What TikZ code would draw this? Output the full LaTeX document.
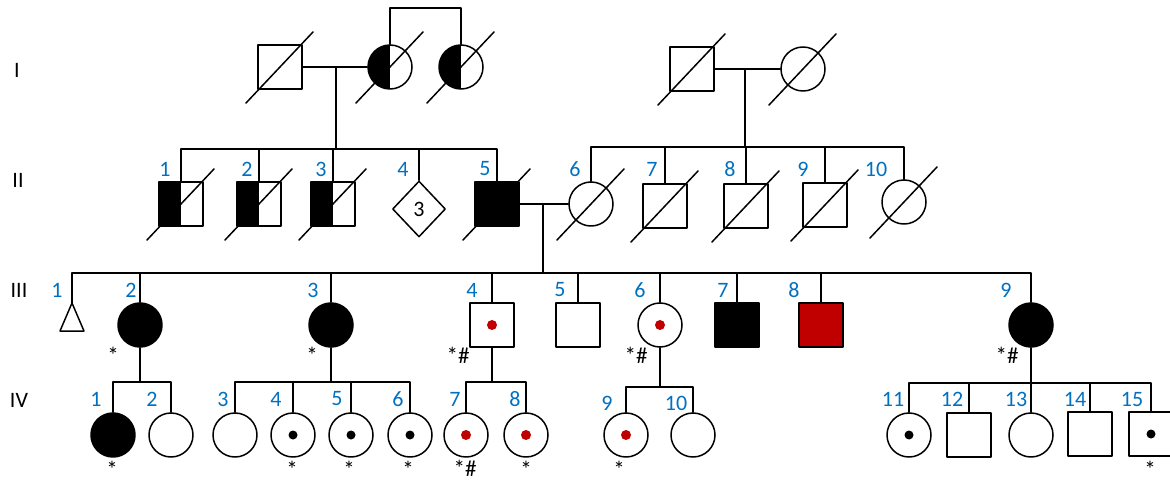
\documentclass[tikz,border=0pt]{standalone}
\usepackage{fontspec}
\setmainfont{Carlito}
\usepackage{tikz}
\usetikzlibrary{shapes.geometric}
\definecolor{numblue}{RGB}{0,112,192}
\definecolor{carrred}{RGB}{192,0,0}
\begin{document}
\begin{tikzpicture}[line cap=round,line join=round,x=1pt,y=-1pt,line width=1.5pt,
    male/.style={draw,rectangle,minimum size=44pt,inner sep=0pt,fill=white},
    female/.style={draw,circle,minimum size=44pt,inner sep=0pt,fill=white},
    halfleft/.style={path picture={\fill[black] (path picture bounding box.south west) rectangle (path picture bounding box.north);}},
    dotblack/.style={path picture={\fill[black] (path picture bounding box.center) circle (4.5pt);}},
    dotred/.style={path picture={\fill[carrred] (path picture bounding box.center) circle (5pt);}},
    num/.style={text=numblue,font=\fontsize{22}{24}\selectfont,inner sep=0pt},
    gen/.style={font=\fontsize{22}{24}\selectfont,inner sep=0pt},
    starlbl/.style={font=\fontsize{23}{24}\selectfont,inner sep=0pt,anchor=base}]
\useasboundingbox (0,0) rectangle (1170,481);
% generation I
\node[male] (I1) at (280,67) {};
\node[female,halfleft] (I2) at (390,67) {};
\node[female,halfleft] (I3) at (461,67) {};
\node[male] (I4) at (692,69) {};
\node[female] (I5) at (803,69) {};
\coordinate (sis) at (0,8);
\coordinate (m1) at (336,67);
\coordinate (m2) at (745,69);
\draw (I1.east) -- (I2.west);
\draw (I4.east) -- (I5.west);
\draw (I2.north) -- (I2.north |- sis) -- (I3.north |- sis) -- (I3.north);
% generation II
\node[male,halfleft] (II1) at (181,204) {};
\node[male,halfleft] (II2) at (259,204) {};
\node[male,halfleft] (II3) at (333,204) {};
\node[draw,diamond,minimum width=53pt,minimum height=56pt,inner sep=0pt,font=\fontsize{22}{24}\selectfont] (II4) at (419,209) {3};
\node[male,fill=black] (II5) at (497,204) {};
\node[female] (II6) at (591,204) {};
\node[male] (II7) at (665,206) {};
\node[male] (II8) at (746,206) {};
\node[male] (II9) at (825,205) {};
\node[female] (II10) at (904,202) {};
\coordinate (sib2) at (0,149);
\coordinate (sib2r) at (0,147);
\draw (m1) -- (m1 |- sib2);
\draw (m2) -- (m2 |- sib2r);
\draw (II1.north) -- (II1.north |- sib2) -- (II5.north |- sib2) -- (II5.north);
\foreach \c in {II2,II3,II4} \draw (\c.north) -- (\c.north |- sib2);
\draw (II6.north) -- (II6.north |- sib2r) -- (II10.north |- sib2r) -- (II10.north);
\foreach \c in {II7,II8,II9} \draw (\c.north) -- (\c.north |- sib2r);
\draw (II5.east) -- (II6.west);
\coordinate (m3) at (543,204);
\coordinate (sib3) at (0,273);
\draw (m3) -- (m3 |- sib3);
% generation III
\coordinate (III1) at (72,303);
\draw (III1) -- ++(-12,28) -- ++(24,0) -- cycle;
\node[female,fill=black] (III2) at (140,325) {};
\node[female,fill=black] (III3) at (331,325) {};
\node[male,dotred] (III4) at (492,325) {};
\node[male] (III5) at (578,325) {};
\node[female,dotred] (III6) at (660,325) {};
\node[male,fill=black] (III7) at (737,325) {};
\node[male,fill=carrred] (III8) at (821,325) {};
\node[female,fill=black] (III9) at (1031,325) {};
\draw (III1) -- (III1 |- sib3) -- (III9.north |- sib3) -- (III9.north);
\foreach \c in {III2,III3,III4,III5,III6,III7,III8} \draw (\c.north) -- (\c.north |- sib3);
% generation IV
\node[female,fill=black] (IV1) at (113,435) {};
\node[female] (IV2) at (171,435) {};
\node[female] (IV3) at (235,435) {};
\node[female,dotblack] (IV4) at (293,435) {};
\node[female,dotblack] (IV5) at (351,435) {};
\node[female,dotblack] (IV6) at (410,435) {};
\node[female,dotred] (IV7) at (466,435) {};
\node[female,dotred] (IV8) at (526,435) {};
\node[female,dotred] (IV9) at (626,435) {};
\node[female] (IV10) at (693,435) {};
\node[female,dotblack] (IV11) at (909,435) {};
\node[male] (IV12) at (969,435) {};
\node[female] (IV13) at (1031,435) {};
\node[male] (IV14) at (1090,434) {};
\node[male,dotblack] (IV15) at (1151,434) {};
\coordinate (sib4) at (0,382);
\coordinate (sib4b) at (0,387);
\coordinate (sib4c) at (0,383);
\foreach \c in {III2,III3,III4} \draw (\c.south) -- (\c.south |- sib4);
\draw (III6.south) -- (III6.south |- sib4b);
\draw (III9.south) -- (III9.south |- sib4c);
\draw (IV1.north) -- (IV1.north |- sib4) -- (IV2.north |- sib4) -- (IV2.north);
\draw (IV3.north) -- (IV3.north |- sib4) -- (IV6.north |- sib4) -- (IV6.north);
\foreach \c in {IV4,IV5} \draw (\c.north) -- (\c.north |- sib4);
\draw (IV7.north) -- (IV7.north |- sib4) -- (IV8.north |- sib4) -- (IV8.north);
\draw (IV9.north) -- (IV9.north |- sib4b) -- (IV10.north |- sib4b) -- (IV10.north);
\draw (IV11.north) -- (IV11.north |- sib4c) -- (IV15.north |- sib4c) -- (IV15.north);
\foreach \c in {IV12,IV13,IV14} \draw (\c.north) -- (\c.north |- sib4c);
% deceased
\foreach \c in {I1,I2,I3,I4,I5,II1,II2,II3,II5,II6,II7,II8,II9,II10}
    \draw (\c.center) ++(-34,36) -- ++(67,-71);
% labels
\node[gen] (gI) at (17,70) {I};
\node[gen] (gII) at (18,180) {II};
\node[gen] (gIII) at (19,290) {III};
\node[gen] (gIV) at (19,400) {IV};
\foreach \x/\t in {165/1,247/2,321/3,403/4,485/5,575/6,652/7,730/8,803/9,876/10}
    \node[num] (nII\t) at (\x,169) {\t};
\foreach \x/\t in {57/1,131/2,313/3,472/4,560/5,640/6,723/7,794/8,1006/9}
    \node[num] (nIII\t) at (\x,290) {\t};
\foreach \x/\t in {96/1,152/2,223/3,276/4,337/5,398/6,455/7,515/8,893/11,952/12,1016/13,1075/14,1132/15}
    \node[num] (nIV\t) at (\x,399) {\t};
\foreach \x/\t in {607/9,676/10}
    \node[num] (nIV\t) at (\x,403) {\t};
\node[starlbl] (sIII2) at (113,363) {*};
\node[starlbl] (sIII3) at (312,363) {*};
\node[starlbl] (sIII4) at (458,363) {*\#};
\node[starlbl] (sIII6) at (636,363) {*\#};
\node[starlbl] (sIII9) at (1007,363) {*\#};
\foreach \x/\t in {112/1,292/4,349/5,408/6,526/8,619/9,1150/15}
    \node[starlbl] (sIV\t) at (\x,477) {*};
\node[starlbl] (sIV7) at (465,476) {*\#};
\end{tikzpicture}
\end{document}
